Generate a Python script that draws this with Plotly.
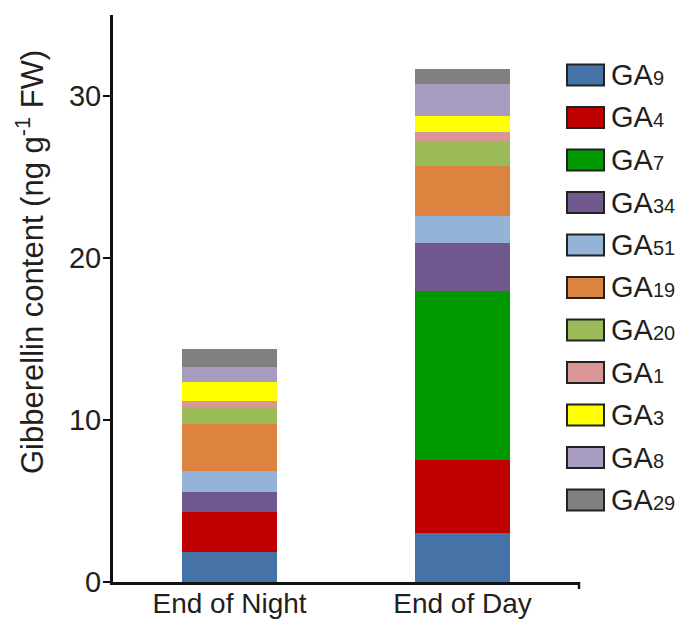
import plotly.graph_objects as go

categories = ["End of Night", "End of Day"]
series_names = ["GA9", "GA4", "GA7", "GA34", "GA51", "GA19", "GA20", "GA1", "GA3", "GA8", "GA29"]
series_subs = ["9", "4", "7", "34", "51", "19", "20", "1", "3", "8", "29"]
ga9 = [1.85, 3.01]
ga4 = [2.47, 4.50]
ga7 = [0.0, 10.47]
ga34 = [1.22, 2.95]
ga51 = [1.31, 1.68]
ga19 = [2.92, 3.09]
ga20 = [1.01, 1.50]
ga1 = [0.39, 0.60]
ga3 = [1.16, 0.97]
ga8 = [0.92, 1.95]
ga29 = [1.13, 0.93]
series_values = [ga9, ga4, ga7, ga34, ga51, ga19, ga20, ga1, ga3, ga8, ga29]
colors = ["#4573A7", "#C00000", "#009A00", "#71588F", "#93B3D7", "#DC843F",
          "#9BBB59", "#DA9694", "#FFFF00", "#A79BC0", "#808080"]
y_ticks = [0, 10, 20, 30]

W, H = 685, 621
L, R, T, B = 113, 106, 15, 39
pw = W - L - R
ph = H - T - B
FONT = "Liberation Sans, Arial, sans-serif"
TXT = "#231F20"

fig = go.Figure()
for name, vals, col in zip(series_names, series_values, colors):
    fig.add_trace(go.Bar(x=[0, 1], y=vals, name=name, marker=dict(color=col, line=dict(width=0)),
                         width=0.41, showlegend=False))

fig.update_layout(
    barmode="stack",
    width=W, height=H,
    margin=dict(l=L, r=R, t=T, b=B, autoexpand=False),
    paper_bgcolor="white", plot_bgcolor="white",
    font=dict(family=FONT, color=TXT),
    xaxis=dict(range=[-0.5, 1.5], tickmode="array", tickvals=[0, 1], ticktext=categories,
               showline=True, linecolor="#111", linewidth=3, ticks="", showgrid=False,
               zeroline=False, tickfont=dict(size=28, family=FONT, color=TXT), fixedrange=True,
               ticklabelstandoff=-6),
    yaxis=dict(range=[0, 35], tickmode="array", tickvals=y_ticks, ticktext=[str(v) for v in y_ticks],
               showline=True, linecolor="#111", linewidth=3, ticks="outside", ticklen=7,
               tickwidth=2, tickcolor="#111", showgrid=False, zeroline=False,
               tickfont=dict(size=29, family=FONT, color=TXT), fixedrange=True,
               ticklabelstandoff=-4),
)

# y-axis title
fig.add_annotation(text="Gibberellin content (ng g<sup>-1</sup> FW)", xref="paper", yref="paper",
                   x=(30 - L) / pw, y=(H - B - 262) / ph, textangle=-90, showarrow=False,
                   xanchor="center", yanchor="middle", font=dict(size=31, family=FONT, color=TXT))

# small end tick on x-axis
fig.add_shape(type="line", xref="paper", yref="paper", x0=1, x1=1, y0=0, y1=-7 / ph,
              line=dict(color="#111", width=2.5))

# custom legend
for i, (sub, col) in enumerate(zip(series_subs, colors)):
    cy = 75 + 42.5 * i
    y0 = (H - B - (cy - 10.5)) / ph
    y1 = (H - B - (cy + 10.5)) / ph
    fig.add_shape(type="rect", xref="paper", yref="paper",
                  x0=(567 - L) / pw, x1=(604 - L) / pw, y0=y1, y1=y0,
                  fillcolor=col, line=dict(color="#222", width=2))
    fig.add_annotation(text="GA<span style='font-size:20px'>" + sub + "</span>",
                       xref="paper", yref="paper", x=(609 - L) / pw, y=(H - B - cy) / ph,
                       xanchor="left", yanchor="middle", showarrow=False,
                       font=dict(size=29, family=FONT, color=TXT))

fig.write_html("out.html")
